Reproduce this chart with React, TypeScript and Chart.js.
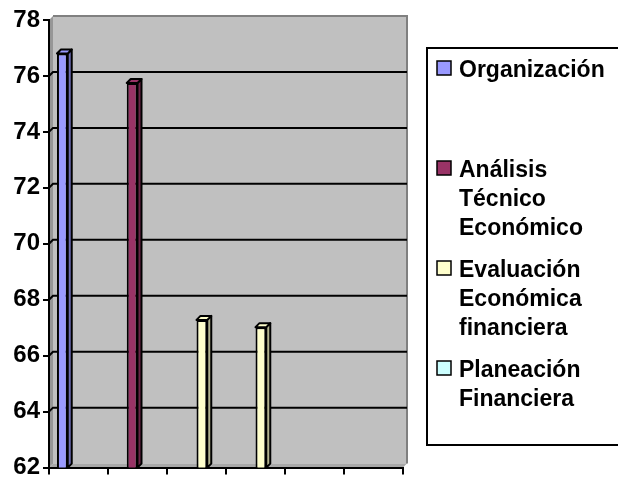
import React, { useEffect, useRef } from "react";
import { Chart, registerables } from "chart.js";
Chart.register(...registerables);

// ---- data ----
const categories = ["", "", "", "", "", ""];
const seriesLabels = ["Organización", "Análisis Técnico Económico", "Evaluación Económica financiera", "Planeación Financiera"];
const legendLines = [["Organización"], ["Análisis", "Técnico", "Económico"], ["Evaluación", "Económica", "financiera"], ["Planeación", "Financiera"]];
const organizacion = [76.8, null, null, null, null, null];
const analisis = [null, 75.75, null, null, null, null];
const evaluacion = [null, null, 67.28, 67.02, null, null];
const planeacion = [null, null, null, null, null, null];
const yMin = 62;
const yMax = 78;
const yStep = 2;

const colors = ["#9999FF", "#993366", "#FFFFCC", "#CCFFFF"];
const sideColors = ["#6B6BB3", "#6B2447", "#B3B38F", "#8FB3B3"];
const FONT = "'Liberation Sans', Arial, sans-serif";
const DX = 4;
const DY = 4;

const wallPlugin = {
  id: "wall3d",
  beforeDraw(chart: any) {
    const { ctx, chartArea: a, scales } = chart;
    const L = a.left, R = a.right, T = a.top, B = a.bottom;
    ctx.save();
    ctx.fillStyle = "#C0C0C0";
    ctx.fillRect(L + DX, T - DY, R - L, B - T);
    ctx.fillStyle = "#969696";
    ctx.beginPath();
    ctx.moveTo(L, T);
    ctx.lineTo(L + DX, T - DY);
    ctx.lineTo(L + DX, B - DY);
    ctx.lineTo(L, B);
    ctx.closePath();
    ctx.fill();
    ctx.fillStyle = "#A8A8A8";
    ctx.beginPath();
    ctx.moveTo(L, B);
    ctx.lineTo(L + DX, B - DY);
    ctx.lineTo(R + DX, B - DY);
    ctx.lineTo(R, B);
    ctx.closePath();
    ctx.fill();
    ctx.strokeStyle = "#808080";
    ctx.lineWidth = 2;
    ctx.beginPath();
    ctx.moveTo(L + DX, T - DY);
    ctx.lineTo(R + DX, T - DY);
    ctx.lineTo(R + DX, B - DY);
    ctx.stroke();
    const ys = scales.y;
    ctx.strokeStyle = "#000";
    ctx.lineWidth = 2;
    ys.ticks.forEach((t: any) => {
      if (t.value <= yMin || t.value >= yMax) return;
      const py = ys.getPixelForValue(t.value);
      ctx.beginPath();
      ctx.moveTo(L, py);
      ctx.lineTo(L + DX, py - DY);
      ctx.lineTo(R + DX, py - DY);
      ctx.stroke();
    });
    ctx.restore();
  },
  afterDatasetsDraw(chart: any) {
    const { ctx, chartArea } = chart;
    ctx.save();
    ctx.strokeStyle = "#000";
    ctx.lineWidth = 2;
    ctx.lineJoin = "round";
    chart.data.datasets.forEach((ds: any, di: number) => {
      const meta = chart.getDatasetMeta(di);
      meta.data.forEach((el: any, i: number) => {
        if (ds.data[i] == null) return;
        const { x, y, width } = el.getProps(["x", "y", "width"], true);
        const base = chartArea.bottom;
        const l = x - width / 2;
        const r = x + width / 2;
        ctx.fillStyle = sideColors[di];
        ctx.beginPath();
        ctx.moveTo(r, y);
        ctx.lineTo(r + DX, y - DY);
        ctx.lineTo(r + DX, base - DY);
        ctx.lineTo(r, base);
        ctx.closePath();
        ctx.fill();
        ctx.stroke();
        ctx.fillStyle = colors[di];
        ctx.beginPath();
        ctx.moveTo(l, y);
        ctx.lineTo(l + DX, y - DY);
        ctx.lineTo(r + DX, y - DY);
        ctx.lineTo(r, y);
        ctx.closePath();
        ctx.fill();
        ctx.stroke();
      });
    });
    ctx.restore();
  },
  afterDraw(chart: any) {
    const { ctx } = chart;
    ctx.save();
    ctx.strokeStyle = "#000";
    ctx.lineWidth = 2;
    ctx.strokeRect(427, 48, 260, 397);
    ctx.font = `bold 23px ${FONT}`;
    ctx.textBaseline = "alphabetic";
    ctx.textAlign = "left";
    const firstBase = 77;
    const itemGap = 100;
    const lineGap = 29;
    legendLines.forEach((lines, i) => {
      const b = firstBase + i * itemGap;
      ctx.fillStyle = colors[i];
      ctx.fillRect(437, b - 16, 14, 14);
      ctx.lineWidth = 1.5;
      ctx.strokeRect(437, b - 16, 14, 14);
      ctx.fillStyle = "#000";
      lines.forEach((ln, j) => ctx.fillText(ln, 459, b + j * lineGap));
    });
    ctx.restore();
  },
};

export default function App() {
  const ref = useRef<HTMLCanvasElement | null>(null);
  useEffect(() => {
    if (!ref.current) return;
    const series = [organizacion, analisis, evaluacion, planeacion];
    const chart = new Chart(ref.current, {
      type: "bar",
      data: {
        labels: categories,
        datasets: series.map((d, i) => ({
          label: seriesLabels[i],
          data: d,
          backgroundColor: colors[i],
          borderColor: "#000",
          borderWidth: 2,
          borderSkipped: false,
          categoryPercentage: 0.73,
          barPercentage: 1,
        })),
      },
      options: {
        responsive: false,
        animation: false,
        events: [],
        layout: { padding: { left: 0, top: 20, right: 215, bottom: 0 } },
        plugins: { legend: { display: false }, tooltip: { enabled: false } },
        scales: {
          x: {
            grid: { display: true, drawOnChartArea: false, drawTicks: true, tickLength: 7, color: "#000", lineWidth: 2, offset: true },
            border: { display: true, color: "#000", width: 2 },
            ticks: { display: false },
            afterFit: (s: any) => { s.height = 13; },
          },
          y: {
            min: yMin,
            max: yMax,
            grid: { display: true, drawOnChartArea: false, drawTicks: true, tickLength: 6, color: "#000", lineWidth: 2 },
            border: { display: true, color: "#000", width: 2 },
            ticks: { stepSize: yStep, color: "#000", font: { family: FONT, size: 24, weight: "bold" }, padding: 3 },
            afterFit: (s: any) => { s.width = 49; },
          },
        },
      },
      plugins: [wallPlugin],
    } as any);
    return () => chart.destroy();
  }, []);
  return (
    <div style={{ position: "fixed", left: 0, top: 0, width: 618, height: 485, background: "#fff" }}>
      <canvas ref={ref} width={618} height={485} style={{ display: "block" }} />
    </div>
  );
}
